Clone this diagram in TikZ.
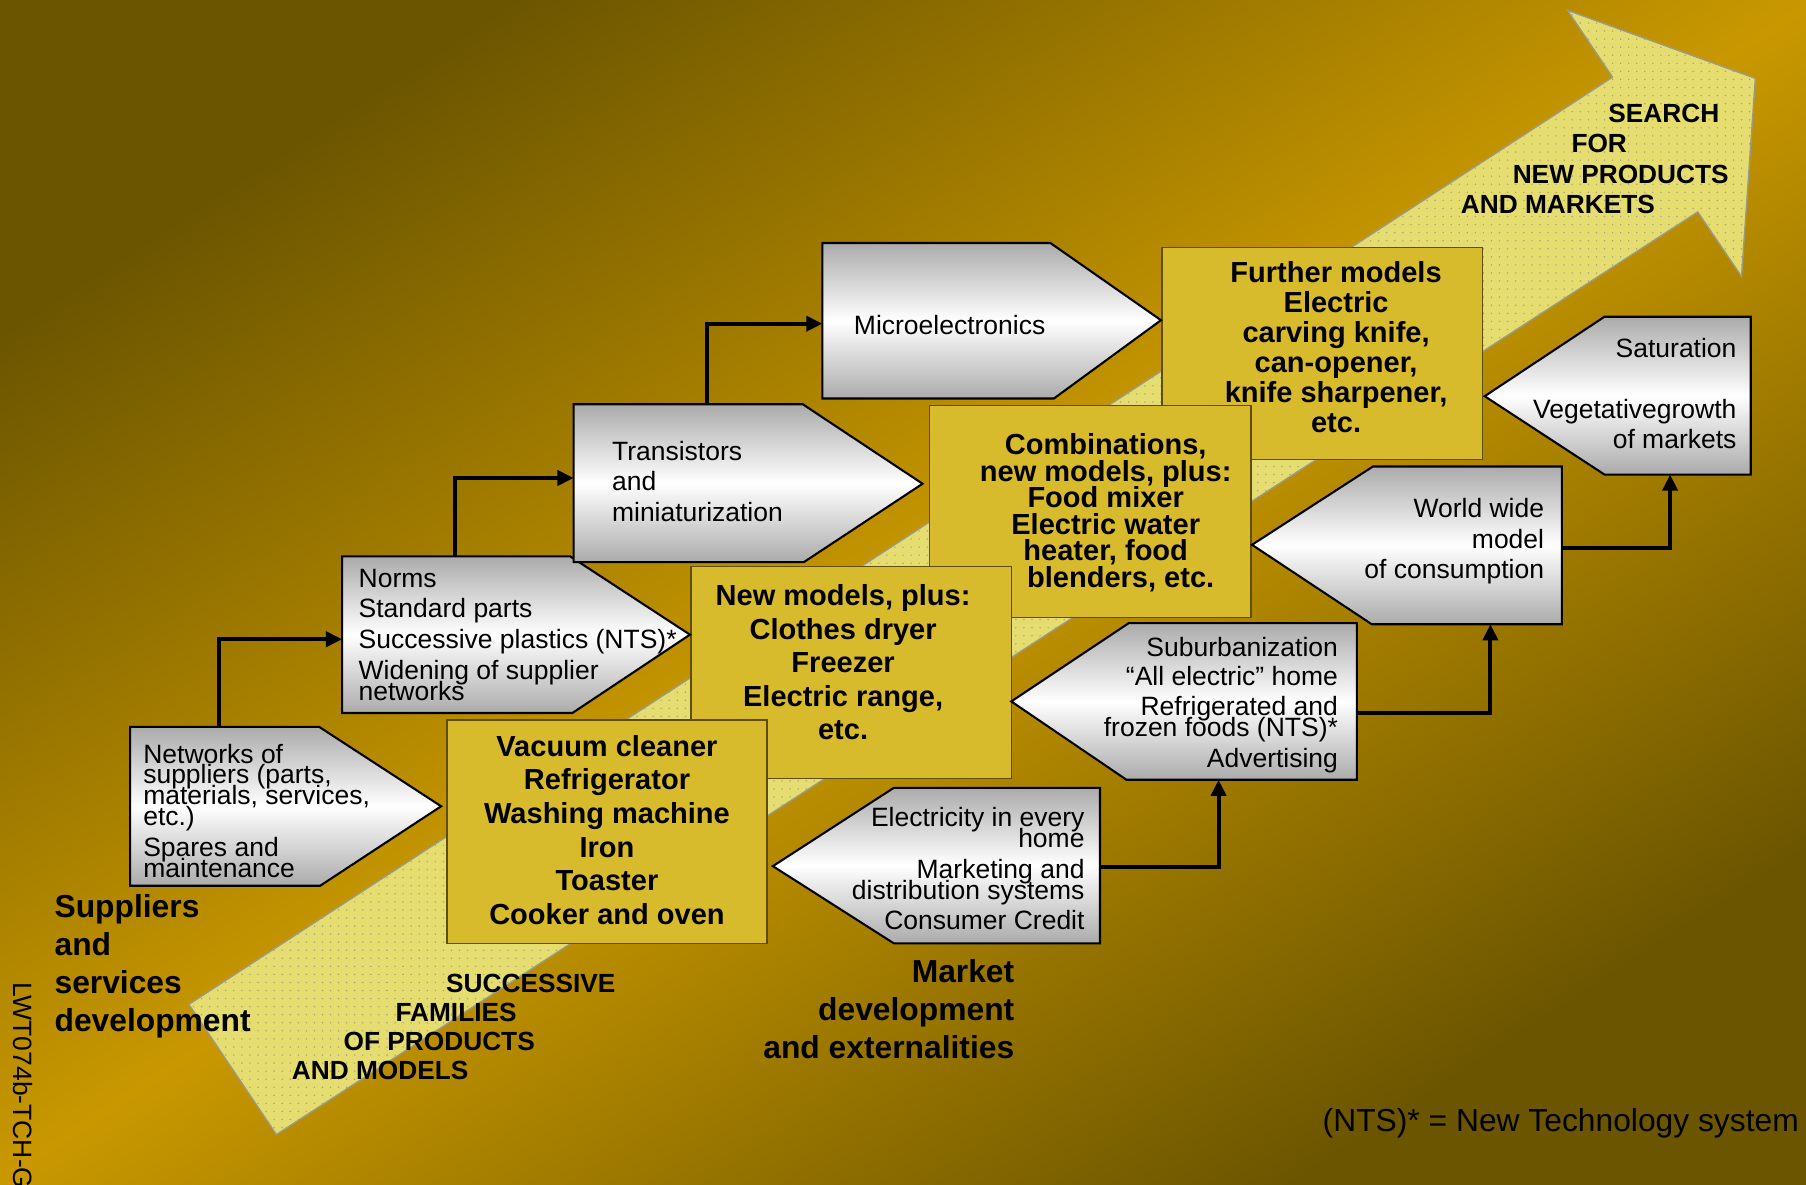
\documentclass[tikz,border=0pt]{standalone}
\usepackage{fontspec}
\setmainfont{Liberation Sans}
\usetikzlibrary{arrows.meta,patterns.meta}
\definecolor{bgdark}{HTML}{6B5500}
\definecolor{bgmid}{HTML}{C99800}
\definecolor{afill}{HTML}{E6DD70}
\definecolor{adot}{HTML}{A7A27A}
\definecolor{aline}{HTML}{9A9A8A}
\definecolor{yfill}{HTML}{D8BB2C}
\definecolor{yline}{HTML}{5E4E08}
\definecolor{pgray}{HTML}{ABABAB}

\tikzdeclarepattern{
  name=fleck,
  type=uncolored,
  bottom left={(-.5pt,-.5pt)},
  top right={(.5pt,.5pt)},
  tile size={(3.5pt,3.5pt)},
  code={\fill (0pt,0pt) circle (.35pt);}
}

\begin{document}
\begin{tikzpicture}[
  x=.5pt,y=-.5pt,
  bigarrow/.style={fill=afill,draw=aline,line width=.6pt,
    postaction={pattern=fleck,pattern color=adot}},
  pent/.style={draw=black,line width=.9pt,
    top color=pgray,bottom color=pgray,middle color=white},
  ybox/.style={draw=yline,fill=yfill,line width=.6pt},
  conn/.style={-{Triangle[length=7pt,width=6.5pt]},line width=1.7pt},
  ptext/.style={inner sep=0pt,
    font={\fontsize{11.5}{9}\selectfont\lineskiplimit=-30pt}},
  ytext/.style={inner sep=0pt,align=center,anchor=north,
    font={\bfseries\fontsize{12.6}{14.6}\selectfont\lineskiplimit=-30pt}},
  head/.style={inner sep=0pt,
    font={\bfseries\fontsize{13.8}{16.5}\selectfont}},
  caps/.style={inner sep=0pt,anchor=base west,
    font={\bfseries\fontsize{11.4}{13}\selectfont}}
]
  \useasboundingbox (0,0) rectangle (1568,1028);
  \shade[top color=bgdark,bottom color=bgdark,middle color=bgmid,
    shading angle=33] (0,0) rectangle (1568,1028);

  % the rising arrow
  \filldraw[bigarrow] (164,872) -- (1400,67) -- (1361,9) -- (1524,68)
    -- (1512,240) -- (1474,184) -- (240,985) -- cycle;

  % families of products
  \filldraw[ybox] (1009,215) rectangle (1287,399);
  \filldraw[ybox] (807,352) rectangle (1086,536);
  \filldraw[ybox] (600,492) rectangle (878,676);
  \filldraw[ybox] (388,625) rectangle (666,819);
  \node[ytext,font={\bfseries\fontsize{12.6}{13}\selectfont\lineskiplimit=-30pt}]
    (further) at (1160,227)
    {Further models\\Electric\\carving knife,\\can-opener,\\knife sharpener,\\etc.};
  \node[ytext,font={\bfseries\fontsize{12.6}{11.5}\selectfont\lineskiplimit=-30pt}]
    (combi) at (960,376)
    {Combinations,\\new models, plus:\\Food mixer\\Electric water\\heater, food\\\hspace*{13pt}blenders, etc.};
  \node[ytext] (newmod) at (732,507)
    {New models, plus:\\Clothes dryer\\Freezer\\Electric range,\\etc.};
  \node[ytext] (vacuum) at (527,638)
    {Vacuum cleaner\\Refrigerator\\Washing machine\\Iron\\Toaster\\Cooker and oven};

  % suppliers side
  \shadedraw[pent] (113,631) -- (277,631) -- (383,700) -- (278,769) -- (113,769) -- cycle;
  \shadedraw[pent] (297,483) -- (495,483) -- (599,551) -- (497,619) -- (297,619) -- cycle;
  \shadedraw[pent] (498,351) -- (697,351) -- (801,420) -- (698,488) -- (498,488) -- cycle;
  \shadedraw[pent] (714,211) -- (912,211) -- (1008,278) -- (915,346) -- (714,346) -- cycle;
  \node[ptext,anchor=north west,align=left] (nets) at (124,645.5)
    {Networks of\\suppliers (parts,\\materials, services,\\etc.)\\[4.5pt]Spares and\\maintenance};
  \node[ptext,anchor=north west,align=left] (norms) at (311,493.5)
    {Norms\\[4.35pt]Standard parts\\[4.35pt]Successive plastics (NTS)*\\[4.35pt]Widening of supplier\\networks};
  \node[ptext,anchor=north west,align=left] (trans) at (531,382.5)
    {Transistors\\[4.25pt]and\\[4.25pt]miniaturization};
  \node[ptext,anchor=west] (micro) at (741,282) {Microelectronics};

  % market side
  \shadedraw[pent] (671,752) -- (776,684) -- (955,684) -- (955,819) -- (776,819) -- cycle;
  \shadedraw[pent] (878,609) -- (980,541) -- (1178,541) -- (1178,677) -- (978,677) -- cycle;
  \shadedraw[pent] (1087,473) -- (1192,405) -- (1356,405) -- (1356,542) -- (1191,542) -- cycle;
  \shadedraw[pent] (1289,344) -- (1393,275) -- (1520,275) -- (1520,412) -- (1393,412) -- cycle;
  \node[ptext,anchor=north east,align=right] (elec) at (942,700.5)
    {Electricity in every\\home\\[4.5pt]Marketing and\\distribution systems\\[4.1pt]Consumer Credit};
  \node[ptext,anchor=north east,align=right] (suburb) at (1162,552.5)
    {Suburbanization\\[4pt]“All electric” home\\[4pt]Refrigerated and\\frozen foods (NTS)*\\[4.5pt]Advertising};
  \node[ptext,anchor=north east,align=right] (world) at (1341,432.5)
    {World wide\\[4.25pt]model\\[4.25pt]of consumption};
  \node[ptext,anchor=north east,align=right] (satur) at (1508,293.5)
    {Saturation\\[17.5pt]Vegetativegrowth\\[4pt]of markets};

  % connectors
  \coordinate (nets-top) at (190,631);
  \coordinate (norms-in) at (297,555);
  \coordinate (norms-top) at (395,483);
  \coordinate (trans-in) at (498,415);
  \coordinate (trans-top) at (614,351);
  \coordinate (micro-in) at (714,281);
  \coordinate (elec-out) at (955,753);
  \coordinate (suburb-in) at (1058,677);
  \coordinate (suburb-out) at (1178,619);
  \coordinate (world-in) at (1294,542);
  \coordinate (world-out) at (1356,476);
  \coordinate (satur-in) at (1450,412);
  \draw[conn] (nets-top) |- (norms-in);
  \draw[conn] (norms-top) |- (trans-in);
  \draw[conn] (trans-top) |- (micro-in);
  \draw[conn] (elec-out) -| (suburb-in);
  \draw[conn] (suburb-out) -| (world-in);
  \draw[conn] (world-out) -| (satur-in);

  % captions
  \node[head,anchor=north west,align=left] (supdev) at (47,776)
    {Suppliers\\and\\services\\development};
  \node[head,anchor=north east,align=right] (marketdev) at (881,833)
    {Market\\development\\and externalities};
  \foreach \t/\x/\y [count=\i] in {SUCCESSIVE/387/862,FAMILIES/343/887,
      OF PRODUCTS/298/912,AND MODELS/253/937}
    \node[caps] (fam\i) at (\x,\y) {\t};
  \foreach \t/\x/\y [count=\i] in {SEARCH/1396/106,FOR/1364/132,
      NEW PRODUCTS/1313/159,AND MARKETS/1268/185}
    \node[caps] (search\i) at (\x,\y) {\t};
  \node[inner sep=0pt,anchor=base west,font={\fontsize{13.8}{16}\selectfont}]
    (nts) at (1148,982) {(NTS)* = New Technology system};
  \node[inner sep=0pt,anchor=base west,rotate=-90,font={\fontsize{11.5}{13}\selectfont}]
    (code) at (12,853) {LWT074b-TCH-G};
\end{tikzpicture}
\end{document}
